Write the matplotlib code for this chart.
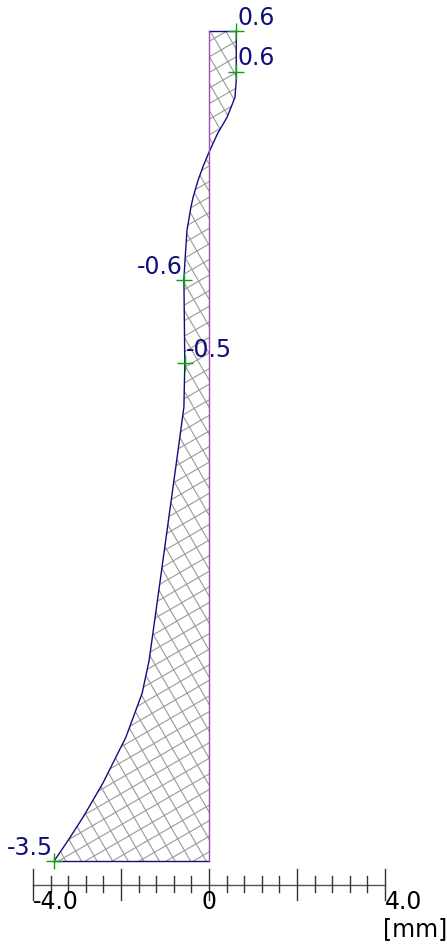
import numpy as np
import matplotlib
matplotlib.use('Agg')
import matplotlib.pyplot as plt
from matplotlib.patches import Polygon
from matplotlib.collections import LineCollection
from matplotlib.transforms import IdentityTransform

# diagram values [mm] along the section depth (0 = top, 1 = bottom)
depth = [0.0, 0.049, 0.059, 0.080, 0.104, 0.123, 0.146, 0.164, 0.180, 0.200,
         0.212, 0.240, 0.280, 0.300, 0.400, 0.453, 0.508, 0.589,
         0.670, 0.758, 0.798, 0.851, 0.906, 0.947, 0.975, 1.0]
value = [0.62, 0.62, 0.62, 0.59, 0.41, 0.20, 0.0, -0.14, -0.25, -0.36,
         -0.41, -0.50, -0.55, -0.57, -0.55, -0.57, -0.71, -0.92,
         -1.13, -1.36, -1.52, -1.89, -2.41, -2.86, -3.20, -3.52]

# labelled points
lab_depth = [0.0, 0.049, 0.300, 0.400, 1.0]
lab_value = [0.62, 0.62, -0.57, -0.55, -3.52]
lab_text = ['0.6', '0.6', '-0.6', '-0.5', '-3.5']
lab_side = ['left', 'left', 'right', 'left', 'right']

major_ticks = [-4.0, -2.0, 0.0, 2.0, 4.0]
minor_ticks = np.arange(-4.0, 4.01, 0.4)
tick_labels = {-4.0: '-4.0', 0.0: '0', 4.0: '4.0'}

W, H = 447, 949
X0, SC = 209, 44.0          # pixel of zero, pixels per mm
TOP, HGT = 31, 830          # pixel rows of the diagram


def zpx(py):
    return (py - TOP) / HGT


plt.rcParams['font.family'] = 'DejaVu Sans'
fig = plt.figure(figsize=(W / 100, H / 100), dpi=100)
ax = fig.add_axes([0, 0, 1, 1])
ax.set_xlim(-X0 / SC, (W - X0) / SC)
ax.set_ylim(zpx(H), zpx(0))
ax.axis('off')

navy = '#10107a'
verts = [(0, 0)] + list(zip(value, depth)) + [(0, 1)]
poly = Polygon(verts, closed=True, facecolor='none', edgecolor='none')
ax.add_patch(poly)

# cross hatch (30 / -60 degrees), clipped to the diagram
segs = []
for ang in (30, -60):
    a = np.radians(ang)
    d = np.array([np.cos(a), np.sin(a)])
    n = np.array([-np.sin(a), np.cos(a)])
    for c in np.arange(-1600, 1600, 13.5):
        p0 = c * n - 1600 * d
        p1 = c * n + 1600 * d
        segs.append([p0, p1])
lc = LineCollection(segs, colors='#9a9a9a', linewidths=0.8, transform=IdentityTransform())
ax.add_collection(lc)
lc.set_clip_path(poly)

ax.plot(value, depth, color=navy, lw=1.0)
ax.plot([0, value[0]], [0, 0], color=navy, lw=1.0)
ax.plot([value[-1], 0], [1, 1], color=navy, lw=1.0)
ax.plot([0, 0], [0, 1], color='#9b4fb0', lw=1.0)

ax.plot(lab_value, lab_depth, '+', color='#10a010', ms=12, mew=1.0)
for v, z, t, s in zip(lab_value, lab_depth, lab_text, lab_side):
    dx = 1 if s == 'left' else -1
    ax.annotate(t, (v, z), xytext=(dx, 1), textcoords='offset points',
                ha=s, va='bottom', color=navy, fontsize=17)

# scale bar
ybar = zpx(885)
ax.plot([-4, 4], [ybar, ybar], color='#555555', lw=1.0)
for x in minor_ticks:
    x = round(x, 1)
    if x in major_ticks:
        ax.plot([x, x], [zpx(869), zpx(900)], color='#333333', lw=1.0)
    else:
        ax.plot([x, x], [zpx(876), zpx(892)], color='#333333', lw=1.0)
for x, t in tick_labels.items():
    ax.text(x, zpx(890), t, ha='center' if x == 0 else 'left', va='top',
            fontsize=17, color='black')
ax.text(4.0 - 0.05, zpx(917), '[mm]', ha='left', va='top', fontsize=17, color='black')

fig.savefig('out.png', dpi=100)
